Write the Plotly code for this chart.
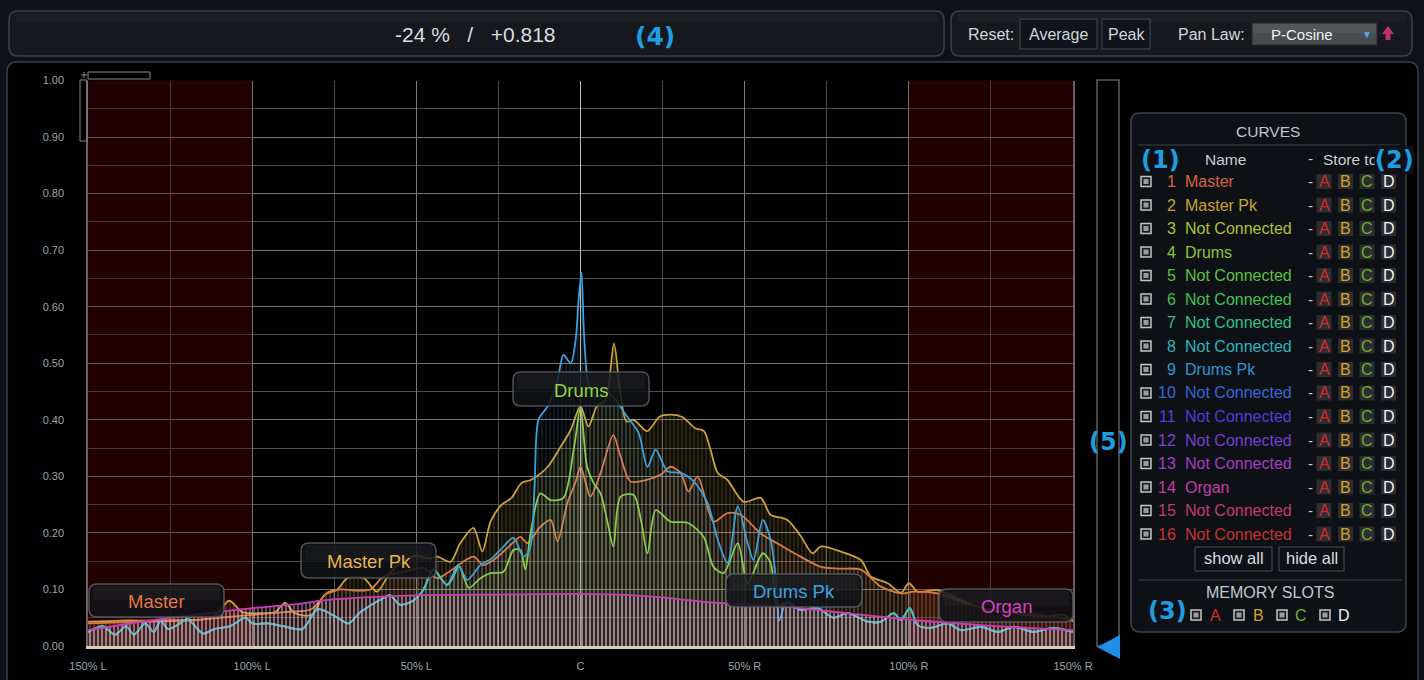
import plotly.graph_objects as go

W, H = 1424, 680
UI_FONT = "Liberation Sans, Arial, sans-serif"
NUM_FONT = "DejaVu Sans, sans-serif"

# ---- curve data (pan position in %, level 0..1) ----
MASTER_PK_X = [-150, -140, -130, -120, -112, -107, -103, -97, -93, -90, -87, -82, -78, -74, -71,
               -66, -62, -58, -54, -50, -46, -43.6, -39.6, -36.6, -32.6, -29.9, -27.4, -24, -21, -18,
               -15, -10, -6, -3, 0, 2.4, 5, 7.6, 10.2, 12, 14, 16.2, 20.3, 24, 27.4,
               31, 35, 37.6, 39.6, 41.8, 44.7, 49.7, 54.9, 57.9, 63, 67, 70.7, 73.2, 79.3, 85.4,
               88.4, 93.6, 97.6, 100, 102.7, 108.8, 113.7, 118, 124, 132, 140, 147, 150]
MASTER_PK = [0.043, 0.045, 0.045, 0.046, 0.05, 0.08, 0.06, 0.058, 0.06, 0.076, 0.058, 0.055, 0.09, 0.10, 0.12,
             0.12, 0.096, 0.13, 0.15, 0.16, 0.155, 0.158, 0.149, 0.182, 0.209, 0.167, 0.22, 0.25, 0.262, 0.288,
             0.294, 0.317, 0.353, 0.382, 0.424, 0.388, 0.424, 0.435, 0.535, 0.453, 0.397, 0.40, 0.38, 0.405, 0.409,
             0.405, 0.385, 0.38, 0.347, 0.306, 0.294, 0.255, 0.262, 0.232, 0.223, 0.195, 0.164, 0.176, 0.167, 0.152,
             0.123, 0.111, 0.094, 0.111, 0.096, 0.099, 0.087, 0.076, 0.064, 0.058, 0.052, 0.055, 0.043]

MASTER_X = [-150, -140, -130, -120, -110, -100, -94, -90, -82, -77, -73, -68, -64, -60, -54,
            -48, -43.6, -40.6, -32.6, -29.6, -26.5, -22.3, -18.3, -16.2, -12.2, -9.1, -7, -4, -1.5, 0,
            1.5, 3, 6.1, 10, 12.2, 15.2, 20.4, 24.4, 27.4, 30.5, 32.9, 35.7, 40.5, 44.8, 48.8,
            54.9, 61, 67, 73.2, 79, 85.4, 91.5, 97.6, 101.5, 108.8, 115, 122, 130, 140, 150]
MASTER = [0.04, 0.042, 0.043, 0.045, 0.05, 0.055, 0.058, 0.06, 0.065, 0.095, 0.10, 0.098, 0.10, 0.123, 0.131,
          0.138, 0.12, 0.129, 0.158, 0.143, 0.152, 0.173, 0.193, 0.182, 0.211, 0.223, 0.185, 0.253, 0.29, 0.317,
          0.29, 0.264, 0.306, 0.373, 0.335, 0.291, 0.294, 0.303, 0.317, 0.306, 0.273, 0.3, 0.22, 0.235, 0.232,
          0.199, 0.178, 0.158, 0.14, 0.137, 0.135, 0.105, 0.093, 0.096, 0.093, 0.08, 0.068, 0.06, 0.055, 0.046]

# low parts where Drums and Drums Pk run together (they show as one teal line)
DRUMS_LEFT_X = [-150, -145.4, -141.8, -138.4, -136, -132.6, -130, -127.8, -125.6, -122,
                -119.7, -115, -111.6, -106.8, -102, -100, -95, -90.5, -84.7, -80,
                -74, -70.7, -67, -60, -58, -55, -51, -47.9, -44.8, -40.6, -37.2]
DRUMS_LEFT = [0.025, 0.035, 0.02, 0.035, 0.02, 0.04, 0.025, 0.045, 0.03, 0.04,
              0.048, 0.022, 0.03, 0.035, 0.05, 0.04, 0.04, 0.035, 0.03, 0.065,
              0.05, 0.04, 0.06, 0.085, 0.09, 0.073, 0.08, 0.099, 0.135, 0.108, 0.143]
DRUMS_RIGHT_X = [63, 67, 72.3, 77, 81.4, 87.5, 91.5, 95.4, 97.6, 100.3,
                 102.7, 106.7, 111.9, 115.9, 122, 127.1, 132, 138, 144, 150]
DRUMS_RIGHT = [0.078, 0.064, 0.067, 0.05, 0.058, 0.043, 0.043, 0.058, 0.046, 0.067,
               0.037, 0.032, 0.04, 0.028, 0.034, 0.025, 0.034, 0.025, 0.032, 0.025]

DRUMS_MID_X = [-34, -30.5, -27.4, -23.5, -20.4, -18.3, -16.8, -15.2, -12.2, -9.1,
               -5.2, -2, 0, 2, 4, 6.1, 8.2, 10, 12.2, 16.2,
               18.5, 20.4, 22.9, 27.4, 32.6, 37.5, 40.5, 43.6, 47.9, 50.9, 55.5, 57.9, 60]
DRUMS_MID = [0.103, 0.12, 0.129, 0.131, 0.17, 0.17, 0.135, 0.2, 0.27, 0.258,
             0.262, 0.35, 0.421, 0.317, 0.288, 0.27, 0.22, 0.176, 0.264, 0.267,
             0.22, 0.164, 0.24, 0.22, 0.218, 0.193, 0.14, 0.129, 0.182, 0.111, 0.164, 0.147, 0.07]

DRUMS_PK_MID_X = [-34.5, -30.5, -27, -24.4, -20.4, -17.4, -15.5, -14, -12.8, -10,
                  -7, -5.2, -3, -1.5, -0.6, 0.3, 1, 2, 3, 5,
                  8, 10, 14.2, 17.7, 20.4, 22.9, 26.5, 30.5, 34.5, 38.7,
                  41.8, 44.8, 47.9, 50.9, 52.7, 55.5, 57.9, 59.5, 60.5, 62]
DRUMS_PK_MID = [0.117, 0.143, 0.155, 0.17, 0.191, 0.158, 0.17, 0.28, 0.4, 0.424,
                0.47, 0.515, 0.5, 0.54, 0.61, 0.66, 0.56, 0.477, 0.453, 0.44,
                0.45, 0.44, 0.406, 0.377, 0.317, 0.347, 0.309, 0.306, 0.291, 0.253,
                0.188, 0.147, 0.247, 0.182, 0.152, 0.223, 0.188, 0.12, 0.045, 0.07]

ORGAN_X = [-150, -130, -109, -100, -88, -77.7, -66, -48.5, -25, 0, 15, 25, 40, 61, 81, 101.5, 122, 150]
ORGAN = [0.028, 0.046, 0.061, 0.067, 0.073, 0.081, 0.086, 0.09, 0.091, 0.092, 0.09, 0.086, 0.077, 0.07,
         0.058, 0.046, 0.037, 0.028]

PAN_TICKS = [-150, -100, -50, 0, 50, 100, 150]
PAN_LABELS = ["150% L", "100% L", "50% L", "C", "50% R", "100% R", "150% R"]
LEVEL_TICKS = [0, 0.1, 0.2, 0.3, 0.4, 0.5, 0.6, 0.7, 0.8, 0.9, 1.0]

CURVE_NAMES = ["Master", "Master Pk", "Not Connected", "Drums", "Not Connected", "Not Connected",
               "Not Connected", "Not Connected", "Drums Pk", "Not Connected", "Not Connected",
               "Not Connected", "Not Connected", "Organ", "Not Connected", "Not Connected"]
CURVE_COLORS = ["#d9643a", "#c9a22e", "#b0c032", "#8cc63a", "#5cc23c", "#3fc24e", "#2fc08a", "#2fb3be",
                "#2f96d4", "#3468d6", "#4c3fd6", "#7a3fd0", "#a53ec8", "#c63fa6", "#c73a6a", "#c83232"]
SLOTS = ["A", "B", "C", "D"]
SLOT_COLORS = ["#d42a2a", "#d4a028", "#6cb028", "#f0f0f0"]

shapes = []
annotations = []


def X(v):
    return v / W


def Y(v):
    return 1 - v / H


def rbox(x0, y0, x1, y1, r, fill, line, width=1, layer="below"):
    path = (f"M {X(x0 + r)},{Y(y0)} L {X(x1 - r)},{Y(y0)} Q {X(x1)},{Y(y0)} {X(x1)},{Y(y0 + r)} "
            f"L {X(x1)},{Y(y1 - r)} Q {X(x1)},{Y(y1)} {X(x1 - r)},{Y(y1)} "
            f"L {X(x0 + r)},{Y(y1)} Q {X(x0)},{Y(y1)} {X(x0)},{Y(y1 - r)} "
            f"L {X(x0)},{Y(y0 + r)} Q {X(x0)},{Y(y0)} {X(x0 + r)},{Y(y0)} Z")
    shapes.append(dict(type="path", xref="paper", yref="paper", path=path, fillcolor=fill,
                       line=dict(color=line, width=width), layer=layer))


def rect(x0, y0, x1, y1, fill="rgba(0,0,0,0)", line="rgba(0,0,0,0)", width=1, layer="above"):
    shapes.append(dict(type="rect", xref="paper", yref="paper", x0=X(x0), x1=X(x1), y0=Y(y1), y1=Y(y0),
                       fillcolor=fill, line=dict(color=line, width=width), layer=layer))


def txt(x, y, s, color, size=16, anchor="center", family=UI_FONT, bg=None):
    a = dict(x=X(x), y=Y(y), xref="paper", yref="paper", text=s, showarrow=False, xanchor=anchor,
             yanchor="middle", font=dict(color=color, size=size, family=family), borderpad=0)
    if bg:
        a["bgcolor"] = bg
    annotations.append(a)


def checkbox(cx, cy):
    rect(cx - 5, cy - 5, cx + 5, cy + 5, fill="#1a1c1f", line="#c4c4c4", width=1.5)
    rect(cx - 2.5, cy - 2.5, cx + 2.5, cy + 2.5, fill="#9c9c9c")


# ---- frame / panels ----
rbox(7, 62, 1418, 720, 10, "#000000", "#3a4047", 1.5)
rbox(9, 11, 944, 56, 9, "#15191e", "#3a4047", 1.5)
rbox(951, 11, 1412, 56, 9, "#15191e", "#3a4047", 1.5)
# faint sheen on the top bars
rect(16, 14, 937, 22, fill="rgba(255,255,255,0.025)", layer="below")
rect(958, 14, 1405, 22, fill="rgba(255,255,255,0.025)", layer="below")

txt(475, 34, "-24 %  &nbsp;/&nbsp;  +0.818", "#dadde0", 21)
txt(655, 36, "<b>(4)</b>", "#1f9de2", 25, family=NUM_FONT)

txt(991, 34, "Reset:", "#d0d6dc", 16)
rect(1020, 19, 1097, 49, fill="#10141a", line="#454b52")
txt(1058.5, 34, "Average", "#d0d6dc", 16)
rect(1102, 19, 1150, 49, fill="#10141a", line="#454b52")
txt(1126, 34, "Peak", "#d0d6dc", 16)
txt(1211, 34, "Pan Law:", "#d0d6dc", 16)
rect(1252, 23, 1377, 45, fill="#484b50", line="#26282b")
rect(1253, 24, 1376, 33, fill="rgba(255,255,255,0.06)")
txt(1302, 34, "P-Cosine", "#f2f2f2", 15)
txt(1367, 34, "▼", "#5aa8e8", 10)
shapes.append(dict(type="path", xref="paper", yref="paper",
                   path=f"M {X(1382)},{Y(34)} L {X(1388)},{Y(26)} L {X(1394)},{Y(34)} L {X(1390.5)},{Y(34)} "
                        f"L {X(1390.5)},{Y(40)} L {X(1385.5)},{Y(40)} L {X(1385.5)},{Y(34)} Z",
                   fillcolor="#c0306a", line=dict(width=0), layer="above"))

# scroll markers at top-left of the graph
rect(88, 72, 150, 79, line="#8a8a8a")
rect(80, 80, 87, 141, line="#8a8a8a")
shapes.append(dict(type="line", xref="paper", yref="paper", x0=X(81), x1=X(87), y0=Y(75), y1=Y(75),
                   line=dict(color="#8a8a8a", width=1)))
shapes.append(dict(type="line", xref="paper", yref="paper", x0=X(84), x1=X(84), y0=Y(72), y1=Y(78),
                   line=dict(color="#8a8a8a", width=1)))

# red out-of-range zones on the graph
for x0, x1 in [(-150, -100), (100, 150)]:
    shapes.append(dict(type="rect", xref="x", yref="y", x0=x0, x1=x1, y0=0, y1=1,
                       fillcolor="rgba(95,0,0,0.34)", line=dict(width=0), layer="between"))

# slider (5)
rect(1097, 80, 1119, 646, line="#5c5c5c", width=1.5)
shapes.append(dict(type="path", xref="paper", yref="paper",
                   path=f"M {X(1120)},{Y(635)} L {X(1097)},{Y(647)} L {X(1120)},{Y(659)} Z",
                   fillcolor="#1e8fe8", line=dict(width=0), layer="above"))
txt(1108, 442, "<b>(5)</b>", "#1f9de2", 24, family=NUM_FONT)

# ---- CURVES panel ----
rbox(1131, 113, 1406, 632, 9, "#0d1116", "#3d434a", 1.5)
txt(1268, 131, "CURVES", "#c0c8d0", 15.5)
rect(1138, 144.5, 1399, 145.5, fill="#3d434a")
txt(1225, 159, "Name", "#c8ced4", 15.5)
txt(1310, 158, "-", "#c8ced4", 15.5)
txt(1322, 159, "Store to", "#c8ced4", 15.5, anchor="left")
txt(1160, 160, "<b>(1)</b>", "#1f9de2", 24, family=NUM_FONT)
txt(1394, 160, "<b>(2)</b>", "#1f9de2", 24, family=NUM_FONT, bg="#0d1116")

for i, (name, col) in enumerate(zip(CURVE_NAMES, CURVE_COLORS)):
    cy = 181.5 + 23.5 * i
    checkbox(1146, cy)
    txt(1177, cy, str(i + 1), col, 16, anchor="right")
    txt(1184, cy, name, col, 16, anchor="left")
    txt(1310, cy, "-", "#c8ced4", 15)
    for j, (s, sc) in enumerate(zip(SLOTS, SLOT_COLORS)):
        cx = 1324 + 21.5 * j
        rect(cx - 7.5, cy - 7.5, cx + 7.5, cy + 7.5, fill="#2c2d30")
        txt(cx, cy, s, sc, 16)

rect(1195, 547, 1272, 571, fill="#0d1116", line="#4a5056")
txt(1233.5, 558, "show all", "#d8dde2", 16.5)
rect(1279, 547, 1344, 571, fill="#0d1116", line="#4a5056")
txt(1311.5, 558, "hide all", "#d8dde2", 16.5)
rect(1138, 579.5, 1402, 580.5, fill="#3d434a")
txt(1270, 592, "MEMORY SLOTS", "#c0c8d0", 16)
txt(1167, 611, "<b>(3)</b>", "#1f9de2", 24, family=NUM_FONT)
for j, (s, sc) in enumerate(zip(SLOTS, SLOT_COLORS)):
    checkbox(1196 + 43 * j, 615)
    txt(1215 + 43 * j, 615, s, sc, 16)

# ---- curves ----
fig = go.Figure()


def curve(x, y, color, fg, fgop, bg, width=1.8):
    fig.add_trace(go.Scatter(
        x=x, y=y, mode="lines", line=dict(color=color, width=width, shape="spline", smoothing=0.8),
        fill="tozeroy", fillcolor=bg,
        fillpattern=dict(shape="|", size=4, solidity=0.32, fgcolor=fg, fgopacity=fgop,
                         bgcolor=bg, fillmode="overlay"),
        hoverinfo="skip", showlegend=False))


curve(MASTER_PK_X, MASTER_PK, "#c9a035", "#d6bf80", 0.22, "rgba(200,160,50,0.06)")
curve(MASTER_X, MASTER, "#d77a45", "#d8a080", 0.17, "rgba(215,120,70,0.05)")
curve(DRUMS_LEFT_X + DRUMS_MID_X + DRUMS_RIGHT_X, DRUMS_LEFT + DRUMS_MID + DRUMS_RIGHT,
      "#8ccc3c", "#b8d890", 0.17, "rgba(140,200,60,0.05)")
curve(DRUMS_LEFT_X + DRUMS_PK_MID_X + DRUMS_RIGHT_X, DRUMS_LEFT + DRUMS_PK_MID + DRUMS_RIGHT,
      "#3c9fdc", "#a0c8e0", 0.13, "rgba(58,150,216,0.04)")
# where both drum curves coincide the two colours blend into teal
for xs, ys in [(DRUMS_LEFT_X, DRUMS_LEFT), (DRUMS_RIGHT_X, DRUMS_RIGHT)]:
    fig.add_trace(go.Scatter(x=xs, y=ys, mode="lines", hoverinfo="skip", showlegend=False,
                             line=dict(color="#4cbcc4", width=1.8, shape="spline", smoothing=0.8)))
curve(ORGAN_X, ORGAN, "#c83cb8", "#f4e0ea", 0.5, "rgba(200,60,180,0.10)")

# curve name tags on the graph
TAGS = [("Master", 89, 584, 224, 617, "#e07a44"),
        ("Master Pk", 301, 543, 436, 578, "#e8b448"),
        ("Drums", 513, 372, 649, 406, "#94d444"),
        ("Drums Pk", 726, 574, 862, 607, "#3aa2e2"),
        ("Organ", 939, 589, 1073, 622, "#d840c4")]
for name, x0, y0, x1, y1, col in TAGS:
    rbox(x0, y0, x1, y1, 8, "rgba(16,19,23,0.86)", "rgba(95,100,106,0.8)", 1.5, layer="above")
    rect(x0 + 4, y0 + 2, x1 - 4, (y0 + y1) / 2, fill="rgba(255,255,255,0.035)")
    txt((x0 + x1) / 2, (y0 + y1) / 2 + 1, name, col, 18.5)

fig.update_layout(
    template="none",
    width=W, height=H, margin=dict(l=0, r=0, t=0, b=0, pad=0, autoexpand=False),
    paper_bgcolor="#0e1216", plot_bgcolor="#000000",
    shapes=shapes, annotations=annotations, showlegend=False,
    xaxis=dict(range=[-150, 150], domain=[X(88), X(1073)], tickmode="array", tickvals=PAN_TICKS,
               ticktext=PAN_LABELS, showgrid=True, gridcolor="#7a7a7a", gridwidth=1,
               minor=dict(tickvals=[-125, -75, -25, 25, 75, 125], showgrid=True, gridcolor="#4e4e4e"),
               zeroline=True, zerolinecolor="#bdbdbd", zerolinewidth=1.2,
               showline=True, linecolor="#d6d0b8", linewidth=2.5, ticks="", automargin=False,
               tickfont=dict(size=11, color="#9aa4ae", family=UI_FONT), ticklabelstandoff=8,
               fixedrange=True),
    yaxis=dict(range=[0, 1], domain=[1 - 646 / H, 1 - 80.5 / H], tickmode="array", tickvals=LEVEL_TICKS,
               tickformat=".2f", showgrid=True, gridcolor="#767676", gridwidth=1,
               minor=dict(tickvals=[0.05, 0.15, 0.25, 0.35, 0.45, 0.55, 0.65, 0.75, 0.85, 0.95],
                          showgrid=True, gridcolor="#4e4e4e"),
               zeroline=False, showline=True, linecolor="#6e5e5e", linewidth=1.5, mirror=True, ticks="",
               automargin=False,
               tickfont=dict(size=11, color="#9aa4ae", family=UI_FONT), ticklabelstandoff=20,
               fixedrange=True),
)

fig.write_html("out.html", config={"displayModeBar": False},
               post_script="document.body.style.margin='0';document.body.style.overflow='hidden';")
